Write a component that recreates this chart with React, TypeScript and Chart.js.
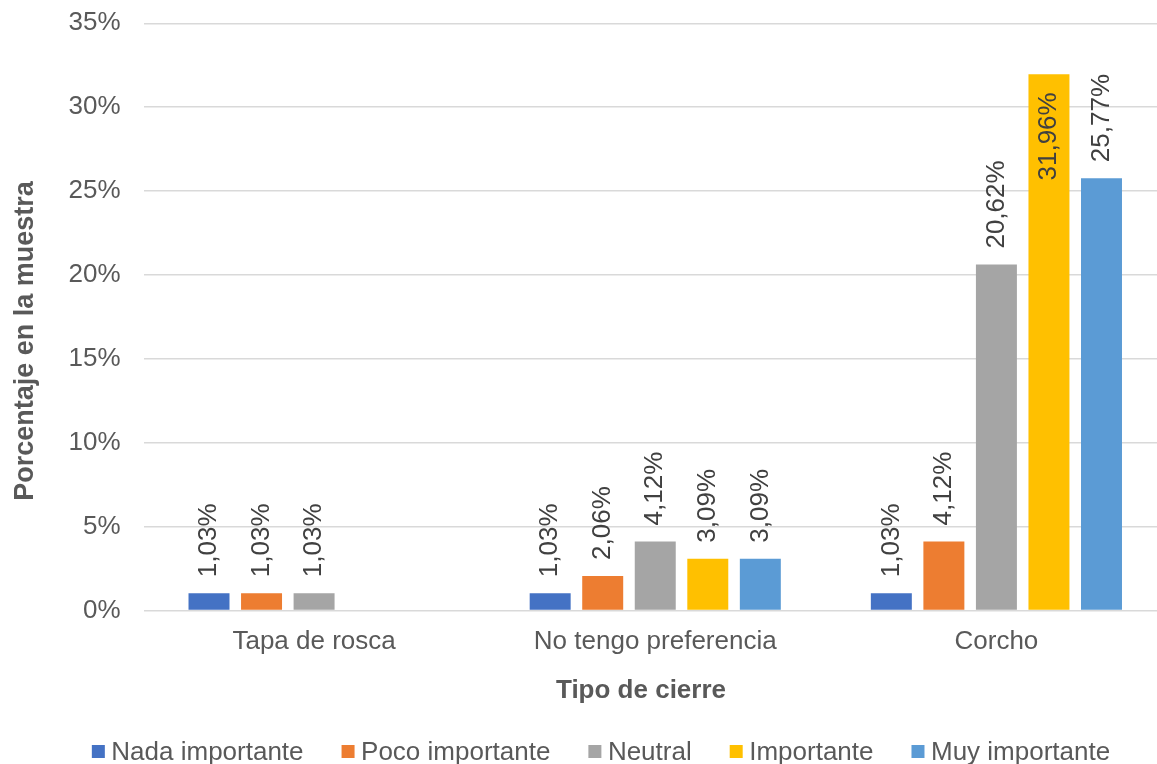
import React, { useEffect, useRef } from 'react';
import { Chart, registerables } from 'chart.js';

Chart.register(...registerables);

const FONT = '"Liberation Sans", Arial, sans-serif';

const categories = ['Tapa de rosca', 'No tengo preferencia', 'Corcho'];
const seriesNames = ['Nada importante', 'Poco importante', 'Neutral', 'Importante', 'Muy importante'];
const seriesColors = ['#4472C4', '#ED7D31', '#A5A5A5', '#FFC000', '#5B9BD5'];
const nadaImportante = [1.03, 1.03, 1.03];
const pocoImportante = [1.03, 2.06, 4.12];
const neutral = [1.03, 4.12, 20.62];
const importante = [null, 3.09, 31.96];
const muyImportante = [null, 3.09, 25.77];
const seriesValues = [nadaImportante, pocoImportante, neutral, importante, muyImportante];

const yMin = 0;
const yMax = 35;
const yStep = 5;
const yTitle = 'Porcentaje en la muestra';
const xTitle = 'Tipo de cierre';

const fmt = (v: number) => v.toFixed(2).replace('.', ',') + '%';

const overlayPlugin = {
  id: 'overlay',
  afterDatasetsDraw(chart: any) {
    const ctx = chart.ctx as CanvasRenderingContext2D;
    ctx.save();
    // data labels
    ctx.font = `26px ${FONT}`;
    ctx.fillStyle = '#404040';
    chart.data.datasets.forEach((ds: any, i: number) => {
      const meta = chart.getDatasetMeta(i);
      meta.data.forEach((bar: any, j: number) => {
        const v = ds.data[j];
        if (v == null) return;
        const text = fmt(v);
        const w = ctx.measureText(text).width;
        let start = bar.y - 16;
        if (start - w < 0) start = bar.y + 18 + w;
        ctx.save();
        ctx.translate(bar.x, start);
        ctx.rotate(-Math.PI / 2);
        ctx.textAlign = 'left';
        ctx.textBaseline = 'middle';
        ctx.fillText(text, 0, 0);
        ctx.restore();
      });
    });

    // axis titles
    ctx.fillStyle = '#595959';
    ctx.font = `bold 27px ${FONT}`;
    ctx.save();
    ctx.translate(33, 341);
    ctx.rotate(-Math.PI / 2);
    ctx.textAlign = 'center';
    ctx.textBaseline = 'alphabetic';
    ctx.fillText(yTitle, 0, 0);
    ctx.restore();
    ctx.font = `bold 26px ${FONT}`;
    ctx.textAlign = 'center';
    ctx.textBaseline = 'alphabetic';
    ctx.fillText(xTitle, 641, 698);

    // legend
    ctx.font = `26px ${FONT}`;
    const box = 13;
    const textGap = 19.5;
    const itemGap = 38;
    const widths = chart.data.datasets.map((ds: any) => ctx.measureText(ds.label).width);
    const total = widths.reduce((a: number, w: number) => a + textGap + w, 0) + itemGap * (widths.length - 1);
    let x = 601 - total / 2;
    const baseline = 760;
    chart.data.datasets.forEach((ds: any, i: number) => {
      ctx.fillStyle = ds.backgroundColor;
      ctx.fillRect(x, 745, box, box);
      ctx.fillStyle = '#595959';
      ctx.textAlign = 'left';
      ctx.fillText(ds.label, x + textGap, baseline);
      x += textGap + widths[i] + itemGap;
    });
    ctx.restore();
  },
};

export default function App() {
  const ref = useRef<HTMLCanvasElement>(null);
  useEffect(() => {
    if (!ref.current) return;
    const chart = new Chart(ref.current, {
      type: 'bar',
      data: {
        labels: categories,
        datasets: seriesNames.map((name, i) => ({
          label: name,
          data: seriesValues[i],
          backgroundColor: seriesColors[i],
          borderWidth: 0,
          categoryPercentage: 0.77,
          barPercentage: 0.78,
        })),
      },
      options: {
        responsive: false,
        animation: false,
        layout: { padding: { top: 23.3, left: 0, right: 0, bottom: 0 } },
        plugins: {
          legend: { display: false },
          tooltip: { enabled: false },
        },
        scales: {
          x: {
            grid: { display: false, drawTicks: false },
            border: { display: false },
            ticks: {
              color: '#595959',
              font: { family: FONT, size: 26 },
              padding: 16,
              maxRotation: 0,
            },
            afterFit: (s: any) => {
              s.height = 764 - 610.5;
              s.paddingLeft = 0;
              s.paddingRight = 0;
            },
          },
          y: {
            min: yMin,
            max: yMax,
            grid: { color: '#D9D9D9', lineWidth: 1.5, drawTicks: false },
            border: { display: false },
            ticks: {
              stepSize: yStep,
              color: '#595959',
              font: { family: FONT, size: 26 },
              padding: 23,
              callback: (v: any) => v + '%',
            },
            afterFit: (s: any) => {
              s.width = 143.5;
              s.paddingTop = 0;
              s.paddingBottom = 0;
            },
          },
        },
      },
      plugins: [overlayPlugin],
    });
    return () => chart.destroy();
  }, []);
  return (
    <div style={{ position: 'fixed', left: 0, top: 0, width: 1157, height: 764, overflow: 'hidden', background: '#fff' }}>
      <canvas ref={ref} width={1167} height={764} style={{ display: 'block', width: 1167, height: 764 }} />
    </div>
  );
}
